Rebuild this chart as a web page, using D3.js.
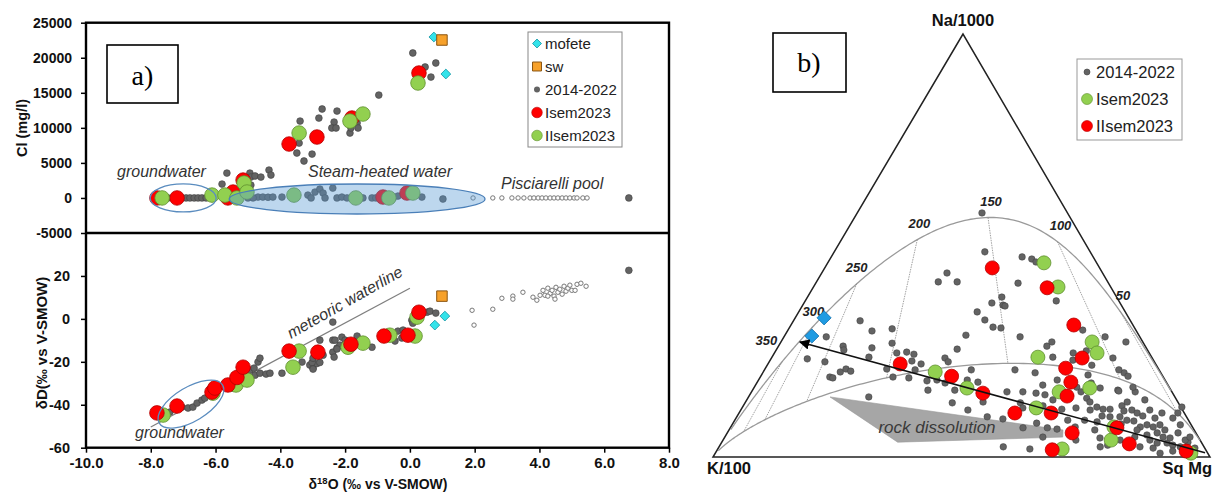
<!DOCTYPE html>
<html><head><meta charset="utf-8">
<script src="https://cdn.jsdelivr.net/npm/d3@7"></script>
<style>body{margin:0;background:#fff}svg{display:block;font-family:"Liberation Sans",Arial,sans-serif}</style>
</head><body><svg id="c" width="1215" height="493"></svg>
<script>
// ---------------- Panel a data ----------------
const xTicks = [-10, -8, -6, -4, -2, 0, 2, 4, 6, 8];
const clTicks = [-5000, 0, 5000, 10000, 15000, 20000, 25000];
const dTicks = [-60, -40, -20, 0, 20];
// [d18O, Cl]
const clGray = [[-5.80,1980],[-5.65,3550],[-4.94,3550],[-4.91,2980],[-4.78,3130],[-4.60,2980],[-4.35,3980],[-4.29,3270],[-4.91,1840],[-5.09,1130],
[-2.71,12690],[-2.81,11400],[-3.39,10970],[-2.25,12400],[-2.34,10830],[-2.41,9980],[-2.28,9980],[-3.49,6410],[-3.27,5270],[-3.02,6260],[-3.42,7830],[-1.85,9260],[-1.82,9980],[-1.63,10690],[-1.60,9980],[-0.96,14680],[0.09,20680],[0.47,18680],[0.65,17250],[0.80,19250],
[-4.69,130],[-4.54,130],[-4.38,100],[-4.23,130],[-3.95,130],[-3.15,410],[-3.05,0],[-2.93,840],[-2.78,1270],[-2.68,700],[-2.62,0],[-2.38,1410],[-2.25,0],[-2.10,130],[-1.94,0],[-1.45,0],[-1.17,0],[-1.05,0],[-0.52,0],[-0.37,270],[0.37,130],[1.02,-150],[6.76,0],
[-7.47,0],[-7.04,0],[-6.91,0],[-6.79,0],[-6.66,0],[-6.54,0],[-6.42,0],[-6.29,0],[-5.00,0],[-4.84,0]];
const clIsem = [[-7.81,0],[-7.19,0],[-5.62,0],[-5.46,840],[-5.15,2550],[-3.73,7690],[-2.87,8690],[-1.79,11400],[0.28,17820],[-0.83,130],[-0.09,700]];
const clIIsem = [[-7.65,0],[-6.11,410],[-5.71,410],[-5.34,0],[-5.12,2130],[-5.03,840],[-3.58,410],[-3.42,9260],[-1.85,10970],[-1.45,11970],[-1.67,0],[-0.65,0],[0.09,700],[0.25,16400]];
const clMofete = [[0.74,22960],[1.11,17680]];
const clSw = [[0.99,22530]];
const clPool = [[1.95,0],[2.56,0],[2.84,0],[3.15,0],[3.34,0],[3.52,0],[3.71,0],[3.83,0],[3.96,0],[4.08,0],[4.20,0],[4.33,0],[4.45,0],[4.57,0],[4.70,0],[4.82,0],[4.94,0],[5.07,0],[5.16,0],[5.34,0],[5.47,0]];
// [d18O, dD]
const dGray = [[-7.41,-43.4],[-7.04,-41.1],[-6.85,-41.5],[-6.70,-41.1],[-6.57,-39.2],[-6.42,-37.8],[-6.33,-36.9],[-5.49,-32.2],[-4.94,-23.9],[-4.81,-22.9],[-4.69,-20.1],[-4.63,-18.3],[-4.78,-26.2],[-4.63,-25.3],[-4.44,-25.7],[-4.32,-25.3],[-3.95,-25.3],[-3.09,-21.5],[-2.99,-22.9],[-2.87,-20.8],[-2.78,-20.3],[-3.02,-20.3],[-2.68,-16.9],[-2.38,-15.5],[-2.38,-9.9],[-2.25,-13.6],[-2.16,-12.2],[-2.10,-8.5],[-2.38,-1.5],[-2.78,-9.9],[-2.00,-9.9],[-1.63,-8.0],[-1.17,-13.2],[-0.37,-5.7],[-0.25,-8.9],[-0.21,-5.2],[0.06,-0.6],[0.09,-2.0],[0.53,3.1],[0.62,3.6],[0.80,2.7],[-2.99,-18.3],[-2.99,-23.4],[-2.31,-9.9],[-2.25,-14.0],[-2.34,-17.8],[-3.33,-20.1],[-1.39,-12.2],[-0.62,-8.5],[-0.46,-10.3],[6.76,22.6]];
const dIsem = [[-7.81,-43.8],[-7.19,-40.6],[-6.11,-34.1],[-6.02,-32.2],[-5.62,-30.8],[-5.34,-27.3],[-5.15,-22.5],[-3.73,-15.0],[-2.84,-15.5],[-1.82,-11.8],[-0.80,-8.0],[-0.06,-7.6],[0.28,3.1]];
const dIIsem = [[-7.62,-44.8],[-6.08,-34.6],[-5.37,-30.8],[-5.03,-28.5],[-3.61,-22.5],[-3.42,-15.0],[-1.91,-13.2],[-1.45,-11.3],[-0.62,-7.6],[0.16,-8.0],[0.22,0.8]];
const dMofete = [[0.77,-2.9],[1.08,1.3]];
const dSw = [[0.99,10.6]];
const dPool = [[1.92,4.0],[1.98,-2.9],[2.56,4.5],[2.84,9.6],[3.18,10.6],[3.18,9.2],[3.49,12.4],[3.80,10.1],[3.92,8.7],[4.11,13.3],[4.17,11.0],[4.26,14.3],[4.33,11.9],[4.39,13.3],[4.45,10.6],[4.51,14.7],[4.57,12.4],[4.63,13.8],[4.70,11.5],[4.76,15.2],[4.82,12.9],[4.88,14.3],[4.94,15.7],[5.00,13.3],[5.10,13.3],[5.16,16.1],[5.28,16.6],[5.44,15.2],[4.26,10.6],[4.48,9.2],[4.02,11.0]];
const mwlO18 = [-8.0, 0.0];
const mwlD = [-50.4, 14.3];

// ---------------- Panel b data: [Na %, Mg %] (K = rest) ----------------
const tGray = [[32.2,13.4],[29.8,17.0],[30.3,20.8],[26.2,13.0],[25.3,13.6],[25.8,19.0],[23.6,19.5],[26.9,22.5],[24.6,24.6],[24.8,26.5],[24.3,28.2],[22.7,28.6],[22.0,30.8],[20.6,30.3],[18.7,30.0],[18.9,26.7],[20.8,24.5],[18.9,14.0],[18.7,14.7],[20.1,15.5],[20.8,16.3],[20.3,17.5],[22.5,11.2],[23.2,7.3],[28.4,8.5],[14.2,24.2],[15.8,35.3],[23.4,34.9],[22.5,36.0],[25.5,36.3],[28.8,36.4],[20.6,41.6],[17.7,44.4],[18.2,42.0],[15.8,40.7],[17.5,37.9],[12.8,41.7],[11.1,45.7],[13.0,47.8],[9.5,50.4],[9.0,53.8],[2.4,57.2],[34.3,35.9],[32.4,38.4],[30.7,40.9],[30.5,42.6],[36.4,37.8],[35.9,40.3],[18.2,35.9],[18.0,34.0],
[43.5,25.2],[41.4,24.5],[41.4,28.3],
[57.7,25.1],[48.5,30.3],[47.3,38.4],[46.8,40.6],[46.1,41.8],[41.1,40.7],[37.8,39.1],[35.7,40.8],[28.4,47.5],[36.9,50.5],[30.0,59.3],[28.4,64.6],[27.2,69.4],[26.2,54.0],[27.2,54.5],[24.6,60.1],[23.4,68.7],[19.9,72.7],[19.1,73.9],[10.4,88.3],[15.4,77.2],[15.8,73.5],[20.6,50.4],[19.9,54.8],
[23.6,56.5],[22.9,60.9],[25.1,62.5],[21.7,65.3],[19.4,65.7],[18.2,60.1],[17.0,57.8],[17.5,67.3],[15.4,51.4],[15.4,54.6],[15.1,57.4],[14.7,59.4],[13.5,61.6],[16.5,64.9],[15.4,66.3],[16.3,69.7],[15.6,73.8],[16.5,76.2],[13.9,68.2],[13.0,69.3],[12.8,55.4],[11.6,56.5],[12.1,60.3],[11.3,64.5],[11.6,67.2],[11.1,70.3],[11.8,71.3],[11.3,72.8],[11.3,74.2],[12.1,76.2],[10.9,77.2],[11.1,78.7],[10.4,80.1],[9.7,81.6],[9.5,77.1],[9.5,75.1],[9.7,73.4],[8.3,73.1],[7.8,76.6],[7.8,78.2],[8.7,78.9],[8.5,80.4],[7.1,82.4],[7.6,83.5],[7.1,85.0],[6.4,82.1],[5.2,84.7],[5.7,86.5],[4.7,88.2],[4.0,85.9],[3.3,87.7],[3.3,89.7],[2.8,91.1],[2.4,92.8],[2.1,87.5],[2.4,84.7],[0.9,89.5],[1.4,91.8],[5.7,90.7],[3.5,93.8],[9.2,84.3],[10.4,85.1],[6.9,58.9],[6.9,63.8],[6.6,65.9],[4.5,75.6],[2.4,76.7],[2.8,81.9],[1.9,62.8],[4.7,64.0],[7.1,69.3],[9.2,87.9],[11.8,88.4],[20.6,71.3],[13.5,80.1],[13.0,76.8],[8.0,61.1],[4.0,71.0],
[6.4,87.7],[4.5,89.7],[4.0,93.0],[2.1,95.9],[4.7,82.5],[4.0,79.9],[2.8,78.0],[6.4,73.6],[8.7,70.4],[8.7,67.0],[11.1,82.3],[7.6,86.1],[7.6,90.2],[4.7,93.6]];
const tIsem = [[45.9,43.5],[40.2,49.2],[27.2,62.6],[24.6,64.9],[23.6,53.5],[15.4,61.9],[16.3,67.6],[20.1,34.6],[16.3,42.9],[11.6,59.2],[1.9,69.3],[4.0,78.1],[7.1,77.1],[0.9,95.7]];
const tIIsem = [[44.7,33.7],[40.0,47.1],[31.2,56.9],[23.4,62.5],[21.0,60.4],[17.7,63.1],[14.4,64.0],[22.0,26.6],[19.1,38.4],[15.1,46.7],[10.4,55.5],[10.4,62.8],[5.7,69.4],[1.7,67.4],[6.9,77.8],[3.1,82.2],[1.4,94.5]];
const tMofete = [[32.9,5.8],[28.6,5.5]];
const tArrow = [[1.0,98.5],[27.2,3.8]];
const tRock = [[14.2,16.4],[6.4,67.2],[4.7,68.0],[3.5,35.4]];
const isoT = [50, 100, 150, 200, 250, 300, 350];

// ---------------- drawing ----------------
const svg = d3.select("#c");
const RED = "#ff0000", RED_S = "#b30000", GRN = "#92d050", GRN_S = "#5f8f2e", GRY = "#636363", GRY_S = "#3f3f3f";

const x = d3.scaleLinear().domain([-10, 8]).range([86, 669]);
const yT = d3.scaleLinear().domain([-5000, 25000]).range([233, 22.7]);
const yB = d3.scaleLinear().domain([-60, 40]).range([447.7, 233]);

const defs = svg.append("defs");
defs.append("clipPath").attr("id","cpT").append("rect").attr("x",86).attr("y",22.7).attr("width",583).attr("height",210.3);
defs.append("clipPath").attr("id","cpB").append("rect").attr("x",86).attr("y",233).attr("width",583).attr("height",214.7);
defs.append("marker").attr("id","arr").attr("viewBox","0 0 10 10").attr("refX",9).attr("refY",5)
  .attr("markerWidth",7).attr("markerHeight",7).attr("orient","auto")
  .append("path").attr("d","M0,0L10,5L0,10z").attr("fill","#000");

function dots(g, data, sx, sy, r, fill, stroke, sw) {
  g.selectAll(null).data(data).join("circle")
    .attr("cx", d => sx(d)).attr("cy", d => sy(d)).attr("r", r)
    .attr("fill", fill).attr("stroke", stroke).attr("stroke-width", sw);
}
function diamonds(g, data, sx, sy, size, fill, stroke) {
  g.selectAll(null).data(data).join("path")
    .attr("d", d3.symbol(d3.symbolSquare, size)())
    .attr("transform", d => `translate(${sx(d)},${sy(d)}) rotate(45)`)
    .attr("fill", fill).attr("stroke", stroke).attr("stroke-width", 0.8);
}
function squares(g, data, sx, sy, size, fill, stroke) {
  g.selectAll(null).data(data).join("path")
    .attr("d", d3.symbol(d3.symbolSquare, size)())
    .attr("transform", d => `translate(${sx(d)},${sy(d)})`)
    .attr("fill", fill).attr("stroke", stroke).attr("stroke-width", 1);
}
const ax = d => x(d[0]);
const ayT = d => yT(d[1]);
const ayB = d => yB(d[1]);

// ---- top panel ----
const gT = svg.append("g").attr("clip-path","url(#cpT)");
dots(gT, clGray, ax, ayT, 3.4, GRY, GRY_S, 0.6);
dots(gT, clPool, ax, ayT, 2.2, "#fff", "#777", 1);
dots(gT, clIsem, ax, ayT, 7.3, RED, RED_S, 0.8);
dots(gT, clIIsem, ax, ayT, 7.3, GRN, GRN_S, 0.8);
diamonds(gT, clMofete, ax, ayT, 48, "#33e3ea", "#1a9aa8");
squares(gT, clSw, ax, ayT, 110, "#f7a12a", "#8a5410");
gT.append("ellipse").attr("cx", x(-1.63)).attr("cy", yT(-150))
  .attr("rx", x(-1.63+3.95)-x(-1.63)).attr("ry", yT(-150)-yT(1990))
  .attr("fill","rgba(91,155,213,0.4)").attr("stroke","#4a7fb8").attr("stroke-width",1.3);
gT.append("ellipse").attr("cx", x(-7.0)).attr("cy", yT(0))
  .attr("rx", x(-5.98)-x(-7.0)).attr("ry", yT(0)-yT(2000))
  .attr("fill","none").attr("stroke","#5a8cbf").attr("stroke-width",1.3);

// ---- bottom panel ----
const gB = svg.append("g").attr("clip-path","url(#cpB)");
gB.append("line").attr("x1",x(mwlO18[0])).attr("y1",yB(mwlD[0])).attr("x2",x(mwlO18[1])).attr("y2",yB(mwlD[1]))
  .attr("stroke","#7f7f7f").attr("stroke-width",1.2);
dots(gB, dGray, ax, ayB, 3.4, GRY, GRY_S, 0.6);
dots(gB, dPool, ax, ayB, 2.2, "#fff", "#777", 1);
dots(gB, dIIsem, ax, ayB, 7.3, GRN, GRN_S, 0.8);
dots(gB, dIsem, ax, ayB, 7.3, RED, RED_S, 0.8);
diamonds(gB, dMofete, ax, ayB, 48, "#33e3ea", "#1a9aa8");
squares(gB, dSw, ax, ayB, 110, "#f7a12a", "#8a5410");
gB.append("ellipse").attr("transform",`translate(${x(-6.76)},${yB(-39.7)}) rotate(-31)`)
  .attr("rx",37).attr("ry",17).attr("fill","none").attr("stroke","#5a8cbf").attr("stroke-width",1.3);

// ---- frame and axes ----
const frame = svg.append("g");
frame.append("rect").attr("x",86).attr("y",22.7).attr("width",583).attr("height",425)
  .attr("fill","none").attr("stroke","#000").attr("stroke-width",2.4);
frame.append("line").attr("x1",86).attr("x2",669).attr("y1",233).attr("y2",233).attr("stroke","#000").attr("stroke-width",2.4);

function styleAxis(g, size) {
  g.select(".domain").remove();
  g.selectAll(".tick line").attr("stroke","#000").attr("stroke-width",1.5);
  g.selectAll("text").attr("font-family","'Liberation Sans',Arial,sans-serif").attr("font-weight","bold")
    .attr("font-size",size).attr("fill","#111");
}
svg.append("g").attr("transform","translate(86,0)")
  .call(d3.axisLeft(yT).tickValues(clTicks).tickSize(5).tickPadding(9).tickFormat(d => String(d)))
  .call(g => styleAxis(g, 14));
svg.append("g").attr("transform","translate(86,0)")
  .call(d3.axisLeft(yB).tickValues(dTicks).tickSize(5).tickPadding(11).tickFormat(d => String(d)))
  .call(g => styleAxis(g, 14.5));
svg.append("g").attr("transform","translate(0,447.7)")
  .call(d3.axisBottom(x).tickValues(xTicks).tickSize(5).tickPadding(5).tickFormat(d => d.toFixed(1)))
  .call(g => styleAxis(g, 15));

// axis titles
svg.append("text").attr("transform","translate(27,128) rotate(-90)").attr("text-anchor","middle")
  .attr("font-weight","bold").attr("font-size",14.5).attr("fill","#111").text("Cl (mg/l)");
svg.append("text").attr("transform","translate(47,343) rotate(-90)").attr("text-anchor","middle")
  .attr("font-weight","bold").attr("font-size",15).attr("fill","#111").text("δD(‰ vs V-SMOW)");
const xt = svg.append("text").attr("x",378).attr("y",489).attr("text-anchor","middle")
  .attr("font-weight","bold").attr("font-size",14).attr("fill","#111");
xt.append("tspan").text("δ");
xt.append("tspan").attr("dy",-5).attr("font-size",9.5).text("18");
xt.append("tspan").attr("dy",5).text("O (‰ vs V-SMOW)");

// annotations panel a
const ann = svg.append("g").attr("font-family","'Liberation Sans',Arial,sans-serif").attr("font-style","italic")
  .attr("font-size",16).attr("fill","#333");
ann.append("text").attr("x",117).attr("y",177).text("groundwater");
ann.append("text").attr("x",308).attr("y",177).text("Steam-heated water");
ann.append("text").attr("x",501).attr("y",189).text("Pisciarelli pool");
ann.append("text").attr("x",135).attr("y",438).text("groundwater");
ann.append("text").attr("transform","translate(291,339) rotate(-29.5)").text("meteoric waterline");

// a) box
svg.append("rect").attr("x",107).attr("y",45).attr("width",71).attr("height",58).attr("fill","#fff").attr("stroke","#000").attr("stroke-width",1.6);
svg.append("text").attr("x",142.5).attr("y",85).attr("text-anchor","middle").attr("font-family","'Liberation Serif','Times New Roman',serif")
  .attr("font-size",28).text("a)");

// legend a
const la = svg.append("g");
la.append("rect").attr("x",528).attr("y",32).attr("width",94).attr("height",115).attr("fill","#fff").attr("stroke","#888").attr("stroke-width",1);
const legA = [["mofete","dia"],["sw","sq"],["2014-2022","gray"],["Isem2023","red"],["IIsem2023","green"]];
legA.forEach((e,i) => {
  const yy = 43.5 + i*23;
  if (e[1]==="dia") la.append("path").attr("d",d3.symbol(d3.symbolSquare,40)()).attr("transform",`translate(537,${yy}) rotate(45)`).attr("fill","#33e3ea").attr("stroke","#1a9aa8").attr("stroke-width",0.8);
  if (e[1]==="sq") la.append("path").attr("d",d3.symbol(d3.symbolSquare,80)()).attr("transform",`translate(537,${yy})`).attr("fill","#f7a12a").attr("stroke","#8a5410");
  if (e[1]==="gray") la.append("circle").attr("cx",537).attr("cy",yy).attr("r",3).attr("fill",GRY);
  if (e[1]==="red") la.append("circle").attr("cx",537).attr("cy",yy).attr("r",5.3).attr("fill",RED).attr("stroke",RED_S).attr("stroke-width",0.6);
  if (e[1]==="green") la.append("circle").attr("cx",537).attr("cy",yy).attr("r",5.3).attr("fill",GRN).attr("stroke",GRN_S).attr("stroke-width",0.6);
  la.append("text").attr("x",545).attr("y",yy+5.5).attr("font-size",15).attr("fill","#222").text(e[0]);
});

// ---------------- Panel b: Giggenbach ternary ----------------
const NaS = d3.scaleLinear().domain([0,100]).range([457,34]);
const US = d3.scaleLinear().domain([0,100]).range([713,1210]);
const apexU = 100*(963-713)/(1210-713);
const tx = d => US(d[1] + d[0]*apexU/100);
const ty = d => NaS(d[0]);
function gigg(T, inner) {
  const Tk = T + 273.15;
  const Lkm = 14.0 - 4410/Tk;
  const Lkn = inner ? 0.315*Lkm - 2.0 : 1.75 - 1390/Tk;
  const a = Math.pow(10,-Lkn)/1000, b = 0.01, c = Math.pow(10,-Lkm/2);
  const s = a + b + c;
  return [100*a/s, 100*c/s];
}
const gb = svg.append("g");
const tri = [[100,0],[0,0],[0,100]];
gb.append("path").attr("d", d3.line().x(tx).y(ty)(tri)+"Z").attr("fill","none").attr("stroke","#222").attr("stroke-width",1.5);
const Ts = d3.range(0, 601, 2);
gb.append("path").attr("d", d3.line().x(tx).y(ty)(Ts.map(t=>gigg(t,false)))).attr("fill","none").attr("stroke","#9a9a9a").attr("stroke-width",1.3);
gb.append("path").attr("d", d3.line().x(tx).y(ty)(Ts.map(t=>gigg(t,true)))).attr("fill","none").attr("stroke","#9a9a9a").attr("stroke-width",1.3);
isoT.forEach(t => {
  const p1 = gigg(t,false), p2 = gigg(t,true);
  gb.append("line").attr("x1",tx(p1)).attr("y1",ty(p1)).attr("x2",tx(p2)).attr("y2",ty(p2))
    .attr("stroke","#8a8a8a").attr("stroke-width",0.8).attr("stroke-dasharray","1.5,1");
});
const labOff = {50:[3,-11],100:[3,-12],150:[3,-11],200:[2,-12],250:[0,-12],300:[1,-11],350:[-16,-16]};
isoT.forEach(t => {
  const p = gigg(t,false);
  gb.append("text").attr("x",tx(p)+labOff[t][0]).attr("y",ty(p)+labOff[t][1]).attr("text-anchor","middle")
    .attr("font-size",13).attr("font-weight","bold").attr("font-style","italic").attr("fill","#222").text(t);
});
gb.append("path").attr("d", d3.line().x(tx).y(ty)(tRock)+"Z").attr("fill","#a6a6a6").attr("stroke","#999").attr("stroke-width",0.6);
gb.append("text").attr("x",937).attr("y",433).attr("text-anchor","middle").attr("font-style","italic").attr("font-size",17)
  .attr("fill","#3a3a3a").text("rock dissolution");
dots(gb, tGray, tx, ty, 3.3, GRY, GRY_S, 0.5);
dots(gb, tIsem, tx, ty, 7, GRN, GRN_S, 0.8);
dots(gb, tIIsem, tx, ty, 7, RED, RED_S, 0.8);
diamonds(gb, tMofete, tx, ty, 100, "#1f9be2", "#1473b0");
gb.append("line").attr("x1",tx(tArrow[0])).attr("y1",ty(tArrow[0])).attr("x2",tx(tArrow[1])).attr("y2",ty(tArrow[1]))
  .attr("stroke","#111").attr("stroke-width",1.5).attr("marker-end","url(#arr)");
gb.append("text").attr("x",963).attr("y",26).attr("text-anchor","middle").attr("font-weight","bold").attr("font-size",16.5).attr("fill","#111").text("Na/1000");
gb.append("text").attr("x",707).attr("y",474).attr("font-weight","bold").attr("font-size",16.5).attr("fill","#111").text("K/100");
gb.append("text").attr("x",1212).attr("y",474).attr("text-anchor","end").attr("font-weight","bold").attr("font-size",16.5).attr("fill","#111").text("Sq Mg");
svg.append("rect").attr("x",773).attr("y",33).attr("width",73).attr("height",59).attr("fill","#fff").attr("stroke","#000").attr("stroke-width",1.6);
svg.append("text").attr("x",809).attr("y",72).attr("text-anchor","middle").attr("font-family","'Liberation Serif','Times New Roman',serif")
  .attr("font-size",28).text("b)");
const lb = svg.append("g");
lb.append("rect").attr("x",1077).attr("y",59).attr("width",105).attr("height",81).attr("fill","#fff").attr("stroke","#999").attr("stroke-width",1);
const legB = [["2014-2022",GRY,GRY_S,3],["Isem2023",GRN,GRN_S,5.5],["IIsem2023",RED,RED_S,5.5]];
legB.forEach((e,i) => {
  const yy = 72 + i*27;
  lb.append("circle").attr("cx",1087).attr("cy",yy).attr("r",e[3]).attr("fill",e[1]).attr("stroke",e[2]).attr("stroke-width",0.6);
  lb.append("text").attr("x",1096).attr("y",yy+6).attr("font-size",16.5).attr("fill","#222").text(e[0]);
});
</script></body></html>
